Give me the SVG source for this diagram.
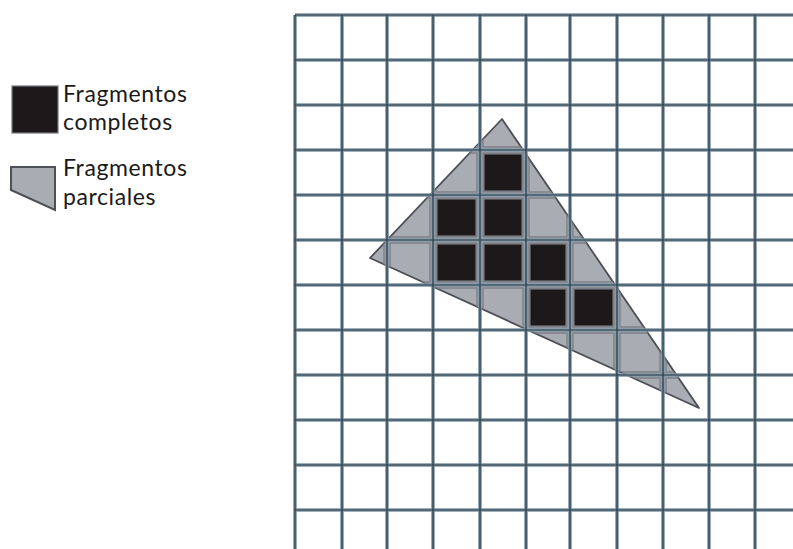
<svg xmlns="http://www.w3.org/2000/svg" width="793" height="549" viewBox="0 0 793 549">
<style>
.halo{stroke:#7f97a7;stroke-width:3.6;fill:none}
.core{stroke:#2b3a44;stroke-width:1.2;fill:none}
.gray{fill:#a9acb3}
.full{fill:#1d191b;stroke:#77797f;stroke-width:1.2}
.lbl{font-family:Lato,"Open Sans","Liberation Sans",sans-serif;font-size:23px;letter-spacing:0.6px;fill:#1a1a1a}
</style>
<defs>
<clipPath id="tri"><polygon points="502,119 370,258 699,408"/></clipPath>
<path id="gridpath" d="M295,15V549M342,15V549M387,15V549M433,15V549M480,15V549M526,15V549M570,15V549M617,15V549M663,15V549M709,15V549M755,15V549M295,15H793M295,60H793M295,105H793M295,150H793M295,195H793M295,240H793M295,285H793M295,330H793M295,375H793M295,420H793M295,465H793M295,510H793"/>
</defs>
<rect width="793" height="549" fill="#ffffff"/>
<g id="legend-completos">
<rect x="12" y="86" width="46" height="47" class="full" stroke="#3a3a3e" stroke-width="1.5"/>
<text class="lbl" x="63" y="102">Fragmentos</text>
<text class="lbl" x="63" y="130">completos</text>
</g>
<g id="legend-parciales">
<polygon points="11,167 55,167 55,210 11,190" class="gray" stroke="#4d5056" stroke-width="2"/>
<text class="lbl" x="63" y="176">Fragmentos</text>
<text class="lbl" x="63" y="205">parciales</text>
</g>
<g id="triangle">
<polygon points="502,119 370,258 699,408" class="gray" stroke="#4b4e54" stroke-width="1.8" stroke-linejoin="round"/>
<g clip-path="url(#tri)">
<path fill="none" stroke="#7d8087" stroke-width="1.4" d="M436,108h41v39h-41zM483,108h40v39h-40zM390,153h40v39h-40zM436,153h41v39h-41zM483,153h40v39h-40zM529,153h38v39h-38zM390,198h40v39h-40zM436,198h41v39h-41zM483,198h40v39h-40zM529,198h38v39h-38zM573,198h41v39h-41zM345,243h39v39h-39zM390,243h40v39h-40zM436,243h41v39h-41zM483,243h40v39h-40zM529,243h38v39h-38zM573,243h41v39h-41zM390,288h40v39h-40zM436,288h41v39h-41zM483,288h40v39h-40zM529,288h38v39h-38zM573,288h41v39h-41zM620,288h40v39h-40zM529,333h38v39h-38zM573,333h41v39h-41zM620,333h40v39h-40zM666,333h40v39h-40zM620,378h40v39h-40zM666,378h40v39h-40z"/>
</g>
</g>
<g id="grid">
<use href="#gridpath" class="halo"/>
<use href="#gridpath" class="core"/>
</g>
<g id="complete-fragments">
<rect class="full" x="484" y="154" width="38" height="37"/>
<rect class="full" x="437" y="199" width="39" height="37"/>
<rect class="full" x="484" y="199" width="38" height="37"/>
<rect class="full" x="437" y="244" width="39" height="37"/>
<rect class="full" x="484" y="244" width="38" height="37"/>
<rect class="full" x="530" y="244" width="36" height="37"/>
<rect class="full" x="530" y="289" width="36" height="37"/>
<rect class="full" x="574" y="289" width="39" height="37"/>
</g>
</svg>
